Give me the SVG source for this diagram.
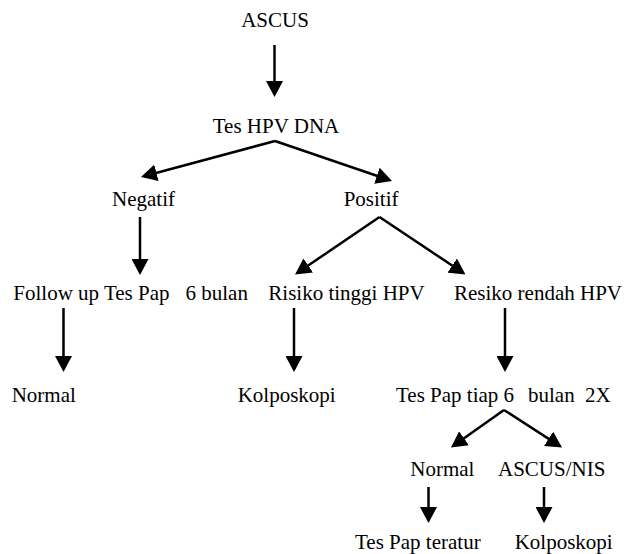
<svg xmlns="http://www.w3.org/2000/svg" width="634" height="554" viewBox="0 0 634 554">
<style>
text{font-family:"Liberation Serif","Times New Roman",serif;font-size:21px;fill:#000;white-space:pre}
.c{text-anchor:middle}
.cn line{stroke:#000;stroke-width:2.5;marker-end:url(#ah)}
</style>
<defs>
<marker id="ah" viewBox="0 0 16 17" markerWidth="16" markerHeight="17" markerUnits="userSpaceOnUse" refX="13" refY="8.5" orient="auto">
<path d="M0,0 L16,8.5 L0,17 z" fill="#000"/>
</marker>
</defs>
<rect width="634" height="554" fill="#fff"/>
<g id="connectors" class="cn">
<line x1="274.5" y1="45" x2="274.5" y2="94"/>
<line x1="275" y1="141" x2="143.9" y2="176.2"/>
<line x1="275" y1="141" x2="389.2" y2="180"/>
<line x1="140" y1="217" x2="140" y2="272"/>
<line x1="379.5" y1="217" x2="297.5" y2="272.8"/>
<line x1="379.5" y1="217" x2="463" y2="272.8"/>
<line x1="63.5" y1="308" x2="63.5" y2="369"/>
<line x1="294" y1="308" x2="294" y2="369"/>
<line x1="505" y1="308" x2="505" y2="369"/>
<line x1="504" y1="410" x2="453.4" y2="445.8"/>
<line x1="504" y1="410" x2="559.5" y2="445.9"/>
<line x1="428.5" y1="487" x2="428.5" y2="520"/>
<line x1="544" y1="487" x2="544" y2="520"/>
</g>
<g id="n-ascus"><text class="c" x="275" y="27">ASCUS</text></g>
<g id="n-hpvdna"><text class="c" x="276" y="133">Tes HPV DNA</text></g>
<g id="n-negatif"><text x="112" y="205.5">Negatif</text></g>
<g id="n-positif"><text x="343.7" y="205.5">Positif</text></g>
<g id="n-followup"><text x="13.3" y="300">Follow up Tes Pap<tspan x="185.5">6 bulan</tspan></text></g>
<g id="n-risiko-tinggi"><text x="268.3" y="300">Risiko tinggi HPV</text></g>
<g id="n-resiko-rendah"><text x="454" y="300">Resiko rendah HPV</text></g>
<g id="n-normal1"><text x="11.7" y="401.5">Normal</text></g>
<g id="n-kolposkopi1"><text x="237.7" y="401.5">Kolposkopi</text></g>
<g id="n-tespap6"><text x="396" y="401.5">Tes Pap tiap 6<tspan x="528">bulan</tspan><tspan x="585">2X</tspan></text></g>
<g id="n-normal2"><text x="410.3" y="475.5">Normal</text></g>
<g id="n-ascusnis"><text x="498" y="475.5">ASCUS/NIS</text></g>
<g id="n-tespapteratur"><text x="355" y="549">Tes Pap teratur</text></g>
<g id="n-kolposkopi2"><text x="514.7" y="549">Kolposkopi</text></g>
</svg>
